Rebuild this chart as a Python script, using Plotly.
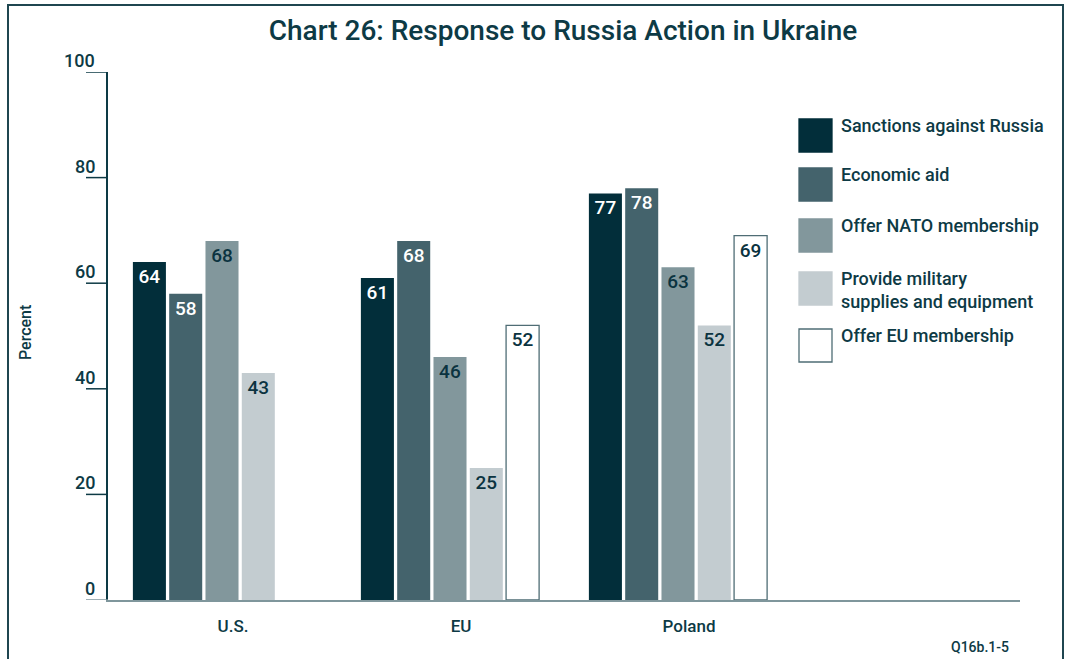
import plotly.graph_objects as go

categories = ["U.S.", "EU", "Poland"]
series_names = ["Sanctions against Russia", "Economic aid", "Offer NATO membership",
                "Provide military<br>supplies and equipment", "Offer EU membership"]
sanctions = [64, 61, 77]
economic_aid = [58, 68, 78]
nato = [68, 46, 63]
military = [43, 25, 52]
eu_membership = [None, 52, 69]
y_ticks = [0, 20, 40, 60, 80, 100]

series_values = [sanctions, economic_aid, nato, military, eu_membership]
fill_colors = ["#022e3a", "#44636c", "#82979c", "#c3ccd0", "#ffffff"]
text_colors = ["#ffffff", "#ffffff", "#0b3340", "#0b3340", "#0b3340"]
OUTLINE = "#4f6d75"

DARK = "#0d3a45"
FONT = "Roboto"

fig = go.Figure()
for name, vals, fc, tc in zip(series_names, series_values, fill_colors, text_colors):
    is_white = fc == "#ffffff"
    fig.add_trace(go.Bar(
        x=categories, y=vals, name=name,
        marker=dict(color=fc, line=dict(color=OUTLINE if is_white else fc, width=1.3 if is_white else 0)),
        text=[("" if v is None else str(v)) for v in vals],
        textposition="inside", insidetextanchor="end",
        textfont=dict(color=tc, size=19, family=FONT, weight=500),
        textangle=0, cliponaxis=False, showlegend=False,
    ))

# plot area pixel geometry
L, R, T, B = 108, 51, 72, 59
W, H = 1071, 659
pw = W - L - R
ph = H - T - B

def px_x(px):
    return (px - L) / pw

def px_y(py):
    return (H - B - py) / ph

shapes = []
annotations = []

# y-axis tick marks and labels
for v in y_ticks:
    shapes.append(dict(type="line", xref="paper", yref="y", x0=px_x(86), x1=0, y0=v, y1=v,
                       line=dict(color="#7f969c" if v == 0 else DARK, width=1.5)))
    annotations.append(dict(xref="paper", yref="y", x=px_x(97), y=v, text=str(v),
                            xanchor="right", yanchor="bottom", yshift=-1, showarrow=False,
                            font=dict(size=18, color=DARK, family=FONT, weight=500)))

# legend (manual)
legend_tops = [119, 168, 219, 272, 329]
for name, fc, top in zip(series_names, fill_colors, legend_tops):
    is_white = fc == "#ffffff"
    shapes.append(dict(type="rect", xref="paper", yref="paper",
                       x0=px_x(799), x1=px_x(832), y0=px_y(top + 33), y1=px_y(top),
                       fillcolor=fc, line=dict(color=OUTLINE if is_white else fc, width=1.3)))
    annotations.append(dict(xref="paper", yref="paper", x=px_x(839), y=px_y(top - 6), text=name,
                            xanchor="left", yanchor="top", align="left", showarrow=False,
                            font=dict(size=18, color=DARK, family=FONT, weight=500)))

# frame
shapes.append(dict(type="rect", xref="paper", yref="paper",
                   x0=px_x(8), x1=px_x(1063), y0=px_y(670), y1=px_y(5),
                   line=dict(color="#1f4650", width=2), fillcolor="rgba(0,0,0,0)", layer="below"))

# y title
annotations.append(dict(xref="paper", yref="paper", x=px_x(25), y=px_y(333), text="Percent",
                        textangle=-90, showarrow=False, xanchor="center", yanchor="middle",
                        font=dict(size=16, color=DARK, family=FONT, weight=500)))
# footer
annotations.append(dict(xref="paper", yref="paper", x=px_x(1011), y=px_y(647), text="Q16b.1-5",
                        xanchor="right", yanchor="middle", showarrow=False,
                        font=dict(size=14, color=DARK, family=FONT, weight=500)))

fig.update_layout(
    width=W, height=H,
    margin=dict(l=L, r=R, t=T, b=B),
    paper_bgcolor="white", plot_bgcolor="white",
    barmode="group", bargap=0.204, bargroupgap=0.09,
    title=dict(text="Chart 26: Response to Russia Action in Ukraine",
               x=563 / W, xanchor="center", y=1 - 30 / H, yanchor="middle",
               font=dict(size=28, color=DARK, family=FONT, weight=500)),
    xaxis=dict(range=[-0.5, 3.5], showline=True, linecolor="#7f969c", linewidth=1.5,
               ticks="", showgrid=False, zeroline=False,
               tickfont=dict(size=17, color=DARK, family=FONT, weight=500),
               ticklabelshift=11, ticklabelstandoff=10),
    yaxis=dict(range=[0, 100], showline=True, linecolor=DARK, linewidth=1.5,
               showticklabels=False, ticks="", showgrid=False, zeroline=False),
    shapes=shapes, annotations=annotations,
)

fig.write_html("out.html", config={"displayModeBar": False},
               post_script="document.body.style.margin='0';document.body.style.overflow='hidden';")
